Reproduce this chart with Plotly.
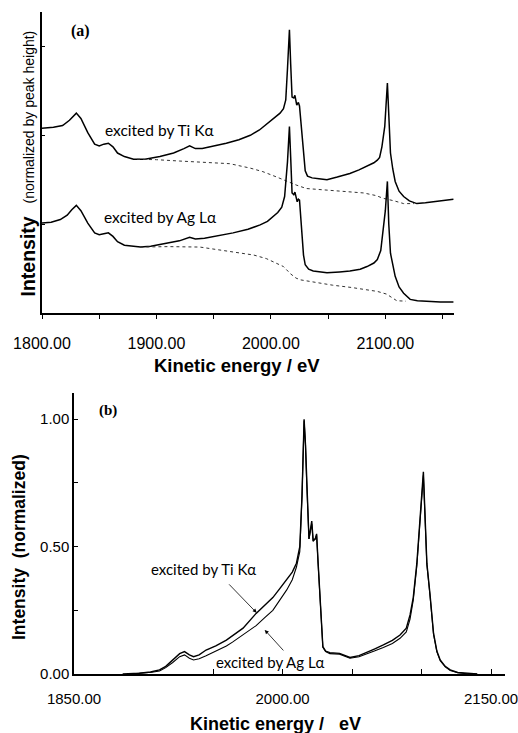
import plotly.graph_objects as go

# ---------------- Panel (a) data ----------------
a_ti_x = [1800, 1810, 1818, 1824, 1830, 1834, 1840, 1846, 1850, 1854, 1858, 1862, 1866, 1872, 1880, 1890,
          1903, 1915, 1924, 1929, 1934, 1940, 1950, 1961, 1972, 1982, 1990, 1996, 2002, 2008, 2011, 2013,
          2014.5, 2016.2, 2017.3, 2018.5, 2020, 2021, 2022.6, 2024, 2025, 2026, 2027, 2028.5, 2030, 2032,
          2036, 2042, 2049, 2058, 2069, 2077, 2084, 2090, 2093, 2095, 2097, 2099.5, 2101.8, 2103, 2104.5,
          2106.5, 2108.6, 2112, 2116, 2121, 2127.5, 2135, 2142, 2150, 2159.5]
a_ti_y = [2.08, 2.09, 2.11, 2.17, 2.25, 2.19, 2.03, 1.90, 1.88, 1.90, 1.91, 1.87, 1.80, 1.76, 1.73, 1.73,
          1.76, 1.80, 1.85, 1.88, 1.85, 1.85, 1.88, 1.91, 1.95, 2.00, 2.06, 2.12, 2.18, 2.25, 2.30, 2.40,
          2.75, 3.19, 2.80, 2.43, 2.42, 2.45, 2.34, 2.37, 2.33, 2.20, 2.03, 1.80, 1.60, 1.54,
          1.52, 1.51, 1.50, 1.53, 1.57, 1.61, 1.65, 1.69, 1.72, 1.75, 1.87, 2.10, 2.59, 2.20, 1.80,
          1.62, 1.48, 1.37, 1.31, 1.26, 1.23, 1.24, 1.25, 1.26, 1.28]

a_ti_bg_x = [1883, 1900, 1920, 1938, 1955, 1964, 1982, 1993, 2005, 2014, 2022, 2031, 2052, 2070, 2081, 2092, 2098, 2108, 2116, 2125]
a_ti_bg_y = [1.73, 1.725, 1.71, 1.70, 1.69, 1.68, 1.63, 1.59, 1.53, 1.48, 1.44, 1.40, 1.38, 1.36, 1.35, 1.32, 1.29, 1.26, 1.23, 1.23]

a_ag_x = [1800, 1808, 1816, 1822, 1826, 1830, 1834, 1840, 1846, 1850, 1854, 1858, 1862, 1866, 1872, 1880,
          1886, 1895, 1909, 1920, 1929, 1934, 1942, 1955, 1967, 1980, 1990.6, 1997, 2002, 2006, 2009.5,
          2012, 2014.5, 2016.2, 2017.3, 2018.5, 2020, 2021, 2023, 2024, 2025, 2026, 2027, 2028.5, 2030,
          2033, 2037, 2049, 2060, 2069, 2078, 2084, 2090, 2093, 2096, 2098, 2100, 2101.8, 2103, 2104.5,
          2106.5, 2108.6, 2112, 2116, 2121.7, 2128, 2136, 2148, 2159.5]
a_ag_y = [1.01, 1.02, 1.05, 1.10, 1.16, 1.21, 1.15, 1.01, 0.90, 0.88, 0.89, 0.90, 0.86, 0.80, 0.76, 0.745,
          0.74, 0.75, 0.78, 0.81, 0.85, 0.83, 0.84, 0.87, 0.90, 0.94, 0.99, 1.03, 1.08, 1.13, 1.19,
          1.31, 1.70, 2.10, 1.75, 1.35, 1.33, 1.36, 1.25, 1.28, 1.27, 1.10, 0.90, 0.65, 0.54,
          0.49, 0.47, 0.45, 0.46, 0.47, 0.49, 0.52, 0.56, 0.60, 0.70, 0.90, 1.15, 1.48, 1.00, 0.67,
          0.52, 0.41, 0.29, 0.22, 0.15, 0.135, 0.13, 0.12, 0.12]

a_ag_bg_x = [1886, 1910, 1938, 1964, 1985, 1996, 2005, 2011, 2017, 2022, 2026, 2040, 2054, 2070, 2084, 2093, 2101, 2106, 2110, 2118]
a_ag_bg_y = [0.74, 0.745, 0.74, 0.69, 0.65, 0.61, 0.56, 0.52, 0.44, 0.39, 0.37, 0.34, 0.31, 0.285, 0.26, 0.24, 0.21, 0.17, 0.135, 0.13]

a_xtick_vals = [1800, 1850, 1900, 1950, 2000, 2050, 2100, 2150]
a_xtick_text = ["1800.00", "", "1900.00", "", "2000.00", "", "2100.00", ""]
a_ytick_vals = [0, 1, 2, 3]

# ---------------- Panel (b) data ----------------
b_ti_x = [1885, 1897, 1905, 1911.5, 1916, 1921, 1926, 1929.5, 1933, 1936, 1940, 1945, 1952, 1959.6, 1964,
          1971.6, 1981, 1987, 1993, 1998, 2003, 2007, 2010, 2012.4, 2014, 2015.5, 2016.5, 2017.3, 2019,
          2021, 2022, 2023.5, 2024.5, 2025.6, 2027.4, 2029, 2031, 2034, 2041, 2048.5, 2055, 2060.5, 2066,
          2072.5, 2079, 2084.5, 2089, 2091.7, 2094, 2096.6, 2099, 2101.3, 2102.5, 2103.8, 2106, 2107.5,
          2108.6, 2111, 2113.4, 2117, 2120.6, 2126, 2132.6, 2140]
b_ti_y = [0.0, 0.003, 0.008, 0.016, 0.03, 0.055, 0.08, 0.088, 0.075, 0.068, 0.075, 0.094, 0.11, 0.133, 0.15,
          0.18, 0.238, 0.27, 0.30, 0.335, 0.37, 0.40, 0.435, 0.50, 0.70, 1.00, 0.90, 0.76, 0.53,
          0.60, 0.526, 0.53, 0.55, 0.435, 0.238, 0.107, 0.09, 0.084, 0.081, 0.065, 0.072, 0.084, 0.098,
          0.114, 0.132, 0.153, 0.18, 0.232, 0.30, 0.435, 0.62, 0.794, 0.62, 0.435, 0.317, 0.22,
          0.16, 0.09, 0.055, 0.03, 0.016, 0.006, 0.002, 0.0]

b_ag_x = [1890, 1900, 1906, 1911.5, 1916, 1921, 1926, 1929.5, 1933, 1936, 1940, 1945, 1952, 1959.6, 1964,
          1971.6, 1981, 1987, 1993, 1998, 2003, 2007, 2010, 2012.4, 2014, 2015.5, 2016.5, 2017.3, 2019,
          2021, 2022, 2023.5, 2024.5, 2025.6, 2027.4, 2029, 2031, 2034, 2041, 2048.5, 2055, 2060.5, 2066,
          2072.5, 2079, 2084.5, 2089, 2091.7, 2094, 2096.6, 2099, 2101.3, 2102.5, 2103.8, 2106, 2107.5,
          2108.6, 2111, 2113.4, 2117, 2120.6, 2126, 2132.6, 2140]
b_ag_y = [0.0, 0.003, 0.007, 0.012, 0.025, 0.045, 0.068, 0.075, 0.062, 0.055, 0.06, 0.072, 0.09, 0.11, 0.125,
          0.155, 0.19, 0.22, 0.25, 0.29, 0.33, 0.37, 0.42, 0.48, 0.70, 0.995, 0.90, 0.76, 0.53,
          0.59, 0.52, 0.53, 0.545, 0.43, 0.235, 0.105, 0.088, 0.08, 0.078, 0.062, 0.068, 0.078, 0.09,
          0.104, 0.12, 0.14, 0.165, 0.215, 0.29, 0.425, 0.61, 0.78, 0.61, 0.43, 0.31, 0.215,
          0.155, 0.087, 0.052, 0.028, 0.014, 0.005, 0.001, 0.0]

b_xtick_vals = [1850, 1950, 2000, 2050, 2100, 2150]
b_xtick_text = ["1850.00", "", "2000.00", "", "", "2150.00"]
b_ytick_vals = [0, 0.25, 0.5, 0.75, 1.0]
b_ytick_text = ["0.00", "", "0.50", "", "1.00"]

W, H = 518, 733
FONT = "Liberation Sans, Arial, sans-serif"
LBL = "Lato, Carlito, Calibri, sans-serif"
SERIF = "Liberation Serif, Times New Roman, serif"

fig = go.Figure()
line_main = dict(color="black", width=1.5)
line_bg = dict(color="#333333", width=1, dash="dot")

fig.add_trace(go.Scatter(x=a_ti_x, y=a_ti_y, mode="lines", line=line_main, xaxis="x", yaxis="y"))
fig.add_trace(go.Scatter(x=a_ti_bg_x, y=a_ti_bg_y, mode="lines", line=line_bg, xaxis="x", yaxis="y"))
fig.add_trace(go.Scatter(x=a_ag_x, y=a_ag_y, mode="lines", line=line_main, xaxis="x", yaxis="y"))
fig.add_trace(go.Scatter(x=a_ag_bg_x, y=a_ag_bg_y, mode="lines", line=line_bg, xaxis="x", yaxis="y"))

fig.add_trace(go.Scatter(x=b_ti_x, y=b_ti_y, mode="lines", line=dict(color="black", width=1.4), xaxis="x2", yaxis="y2"))
fig.add_trace(go.Scatter(x=b_ag_x, y=b_ag_y, mode="lines", line=dict(color="black", width=1.1), xaxis="x2", yaxis="y2"))

fig.update_layout(
    template="none",
    width=W, height=H,
    margin=dict(l=0, r=0, t=0, b=0, pad=0, autoexpand=False),
    paper_bgcolor="white", plot_bgcolor="white",
    showlegend=False,
    font=dict(family=FONT, color="black"),
    xaxis=dict(domain=[42 / W, 454 / W], range=[1800, 2160], showgrid=False, zeroline=False, automargin=False,
               showline=True, linecolor="black", linewidth=1.5,
               tickmode="array", tickvals=a_xtick_vals, ticktext=a_xtick_text,
               ticks="outside", ticklen=5, tickwidth=1.3, tickcolor="black", ticklabeloverflow="allow",
               tickfont=dict(size=16, family=FONT), ticklabelstandoff=10, anchor="y"),
    yaxis=dict(domain=[1 - 312.7 / H, 1 - 12 / H], range=[0, 3.39], showgrid=False, zeroline=False, automargin=False,
               showline=True, linecolor="black", linewidth=2,
               tickmode="array", tickvals=a_ytick_vals, showticklabels=False,
               ticks="inside", ticklen=3, tickwidth=1.3, tickcolor="black", anchor="x"),
    xaxis2=dict(domain=[74 / W, 505 / W], range=[1850, 2160], showgrid=False, zeroline=False, automargin=False,
                showline=True, linecolor="black", linewidth=1.5,
                tickmode="array", tickvals=b_xtick_vals, ticktext=b_xtick_text,
                ticks="inside", ticklen=5, tickwidth=1.3, tickcolor="black", ticklabeloverflow="allow",
                tickfont=dict(size=15, family=FONT), ticklabelstandoff=10, anchor="y2"),
    yaxis2=dict(domain=[1 - 674 / H, 1 - 393 / H], range=[0, 1.103], showgrid=False, zeroline=False, automargin=False,
                showline=True, linecolor="black", linewidth=1.5,
                tickmode="array", tickvals=b_ytick_vals, ticktext=b_ytick_text,
                ticks="inside", ticklen=4, tickwidth=1.3, tickcolor="black", ticklabeloverflow="allow",
                tickfont=dict(size=15, family=FONT), anchor="x2"),
)

C = dict(xanchor="center", yanchor="middle", showarrow=False)
ann = []
ann.append(dict(x=1834, y=3.18, xref="x", yref="y", text="<b>(a)</b>", font=dict(family=SERIF, size=16), **C))
ann.append(dict(x=1874.7, y=1.033, xref="x2", yref="y2", text="<b>(b)</b>", font=dict(family=SERIF, size=15), **C))
ann.append(dict(x=1903, y=2.06, xref="x", yref="y", text="excited by Ti K\u03b1", font=dict(family=LBL, size=15.5), **C))
ann.append(dict(x=1903.6, y=1.08, xref="x", yref="y", text="excited by Ag L\u03b1", font=dict(family=LBL, size=15.5), **C))
ann.append(dict(x=1942.9, y=0.411, xref="x2", yref="y2", text="excited by Ti K\u03b1", font=dict(family=LBL, size=15), **C))
ann.append(dict(x=1991.5, y=0.048, xref="x2", yref="y2", text="excited by Ag L\u03b1", font=dict(family=LBL, size=15), **C))
ann.append(dict(x=1981.4, y=0.24, xref="x2", yref="y2", ax=-29, ay=-30, text="", showarrow=True,
                arrowhead=2, arrowsize=1, arrowwidth=0.8, arrowcolor="black"))
ann.append(dict(x=1987.2, y=0.173, xref="x2", yref="y2", ax=20, ay=22, text="", showarrow=True,
                arrowhead=2, arrowsize=1, arrowwidth=0.8, arrowcolor="black"))
ann.append(dict(x=236.7 / W, y=1 - 365 / H, xref="paper", yref="paper", text="<b>Kinetic energy / eV</b>",
                font=dict(family=FONT, size=18.5), **C))
ann.append(dict(x=275 / W, y=1 - 724 / H, xref="paper", yref="paper", text="<b>Kinetic energy /   eV</b>",
                font=dict(family=FONT, size=18), **C))
ann.append(dict(x=27.5 / W, y=1 - 257 / H, xref="paper", yref="paper", textangle=-90,
                text="<b>Intensity</b>", font=dict(family=FONT, size=19.5), **C))
ann.append(dict(x=29 / W, y=1 - 117.5 / H, xref="paper", yref="paper", textangle=-90,
                text="(normalized by peak height)", font=dict(family=FONT, size=14), **C))
ann.append(dict(x=19 / W, y=1 - 547 / H, xref="paper", yref="paper", textangle=-90,
                text="<b>Intensity  (normalized)</b>", font=dict(family=FONT, size=17.5), **C))
fig.update_layout(annotations=ann)

fig.write_html("out.html", config={"displayModeBar": False},
               post_script="document.body.style.margin='0';document.body.style.padding='0';")
